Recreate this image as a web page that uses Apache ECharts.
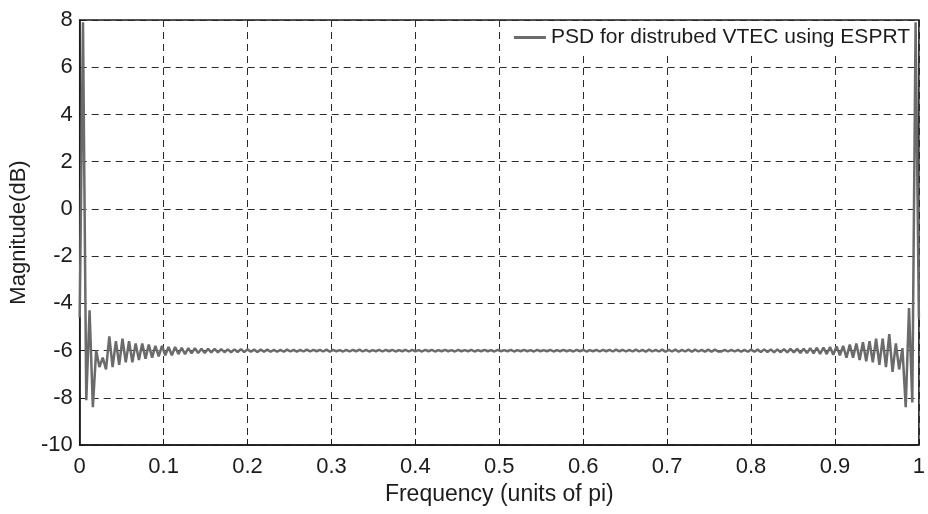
<!DOCTYPE html>
<html>
<head>
<meta charset="utf-8">
<title>PSD for distrubed VTEC using ESPRT</title>
<script src="https://cdn.jsdelivr.net/npm/echarts@6/dist/echarts.min.js"></script>
<style>
  html, body { margin: 0; padding: 0; background: #fff; }
  #chart { width: 928px; height: 514px; }
</style>
</head>
<body>
<div id="chart"></div>
<script>
// Power spectral density (dB) over normalised frequency 0..1 (units of pi), 256 bins.
// Low-frequency bins 0..60
const psdLow = [
  -4.6, 7.9, -8.1, -4.3, -8.4, -6.0, -6.7, -6.3, -6.8, -5.4,
  -6.7, -5.6, -6.6, -5.5, -6.5, -5.6, -6.5, -5.7, -6.4, -5.7,
  -6.35, -5.75, -6.3, -5.8, -6.25, -5.8, -6.2, -5.85, -6.2, -5.85,
  -6.15, -5.88, -6.15, -5.9, -6.12, -5.9, -6.1, -5.92, -6.1, -5.93,
  -6.08, -5.93, -6.08, -5.94, -6.07, -5.95, -6.07, -5.95, -6.06, -5.94,
  -6.06, -5.95, -6.05, -5.96, -6.06, -5.96, -6.05, -5.96, -6.05, -5.97,
  -6.05
];
// Mid-band bins 61..194
const psdMid = [
  -5.97, -6.05, -5.96, -6.04, -5.97, -6.05, -5.97, -6.04, -5.96, -6.04,
  -5.97, -6.03, -5.97, -6.04, -5.96, -6.05, -5.97, -6.03, -5.98, -6.04,
  -5.97, -6.04, -5.97, -6.03, -5.96, -6.04, -5.97, -6.04, -5.98, -6.03,
  -5.97, -6.04, -5.97, -6.03, -5.97, -6.04, -5.98, -6.03, -5.97, -6.04,
  -5.97, -6.03, -5.98, -6.04, -5.97, -6.03, -5.97, -6.04, -5.98, -6.03,
  -5.97, -6.03, -5.98, -6.04, -5.97, -6.03, -5.98, -6.03, -5.97, -6.04,
  -5.98, -6.03, -5.97, -6.03, -5.98, -6.04, -5.97, -6.03, -5.98, -6.03,
  -5.97, -6.04, -5.98, -6.03, -5.97, -6.03, -5.98, -6.04, -5.97, -6.03,
  -5.98, -6.03, -5.97, -6.04, -5.98, -6.03, -5.97, -6.03, -5.98, -6.04,
  -5.97, -6.03, -5.97, -6.04, -5.98, -6.03, -5.97, -6.04, -5.97, -6.03,
  -5.97, -6.04, -5.96, -6.03, -5.97, -6.04, -5.97, -6.04, -5.96, -6.04,
  -5.97, -6.05, -5.96, -6.04, -5.97, -6.04, -5.96, -6.05, -5.97, -6.04,
  -5.96, -6.05, -5.97, -6.04, -5.96, -6.05, -5.96, -6.04, -5.97, -6.05,
  -5.96, -6.05, -5.96, -6.04
];
// High-frequency bins 195..255
const psdHigh = [
  -6.04, -5.97, -6.04, -5.97, -6.04, -5.97, -6.05, -5.97, -6.05, -5.96,
  -6.05, -5.96, -6.06, -5.95, -6.06, -5.95, -6.07, -5.95, -6.07, -5.94,
  -6.08, -5.93, -6.08, -5.93, -6.1, -5.92, -6.1, -5.9, -6.12, -5.88,
  -6.14, -5.87, -6.15, -5.85, -6.18, -5.82, -6.2, -5.8, -6.3, -5.75,
  -6.3, -5.7, -6.4, -5.65, -6.45, -5.6, -6.5, -5.5, -6.6, -5.5,
  -6.7, -5.3, -6.9, -5.7, -6.8, -5.9, -8.4, -4.2, -8.2, 7.9,
  -4.6
];

const seriesName = 'PSD for distrubed VTEC using ESPRT';
const xTitle = 'Frequency (units of pi)';
const yTitle = 'Magnitude(dB)';

const psd = psdLow.concat(psdMid, psdHigh);
const binCount = psd.length;
const points = psd.map((v, i) => [i / (binCount - 1), v]);

const FONT = "'Liberation Sans', Arial, Helvetica, sans-serif";
const TEXT = '#1c1c1c';
const FRAME = '#1a1a1a';
const GRIDLINE = { show: true, lineStyle: { color: '#2a2a2a', width: 1, type: [7, 5] } };

const chart = echarts.init(document.getElementById('chart'), null, { renderer: 'canvas' });
chart.setOption({
  animation: false,
  backgroundColor: '#ffffff',
  textStyle: { fontFamily: FONT, color: TEXT },
  grid: {
    left: 79, right: 5, top: 20, bottom: 69,
    show: true, borderColor: FRAME, borderWidth: 1.5, backgroundColor: 'transparent'
  },
  legend: {
    data: [seriesName],
    top: 21, right: 15,
    backgroundColor: '#ffffff',
    padding: [6, 3, 6, 6],
    icon: 'rect',
    itemWidth: 32, itemHeight: 3, itemGap: 4,
    textStyle: { fontFamily: FONT, fontSize: 21, color: TEXT, padding: [0, 0, 0, 0] }
  },
  xAxis: {
    type: 'value', min: 0, max: 1, interval: 0.1,
    name: xTitle, nameLocation: 'middle', nameGap: 38,
    nameTextStyle: { fontFamily: FONT, fontSize: 23, color: TEXT },
    axisLine: { show: true, onZero: false, lineStyle: { color: FRAME, width: 1.5 } },
    axisTick: { show: true, inside: true, length: 6, lineStyle: { color: FRAME } },
    axisLabel: { fontFamily: FONT, fontSize: 22, color: TEXT, margin: 11 },
    splitLine: GRIDLINE
  },
  yAxis: {
    type: 'value', min: -10, max: 8, interval: 2,
    name: yTitle, nameLocation: 'middle', nameGap: 43, nameRotate: 90,
    nameTextStyle: { fontFamily: FONT, fontSize: 22, color: TEXT },
    axisLine: { show: true, onZero: false, lineStyle: { color: FRAME, width: 1.5 } },
    axisTick: { show: true, inside: true, length: 6, lineStyle: { color: FRAME } },
    axisLabel: { fontFamily: FONT, fontSize: 22, color: TEXT, margin: 7 },
    splitLine: GRIDLINE
  },
  series: [{
    name: seriesName,
    type: 'line',
    data: points,
    symbol: 'none',
    lineStyle: { color: '#6b6b6b', width: 2.5 },
    itemStyle: { color: '#6b6b6b' },
    z: 3
  }]
});
</script>
</body>
</html>
